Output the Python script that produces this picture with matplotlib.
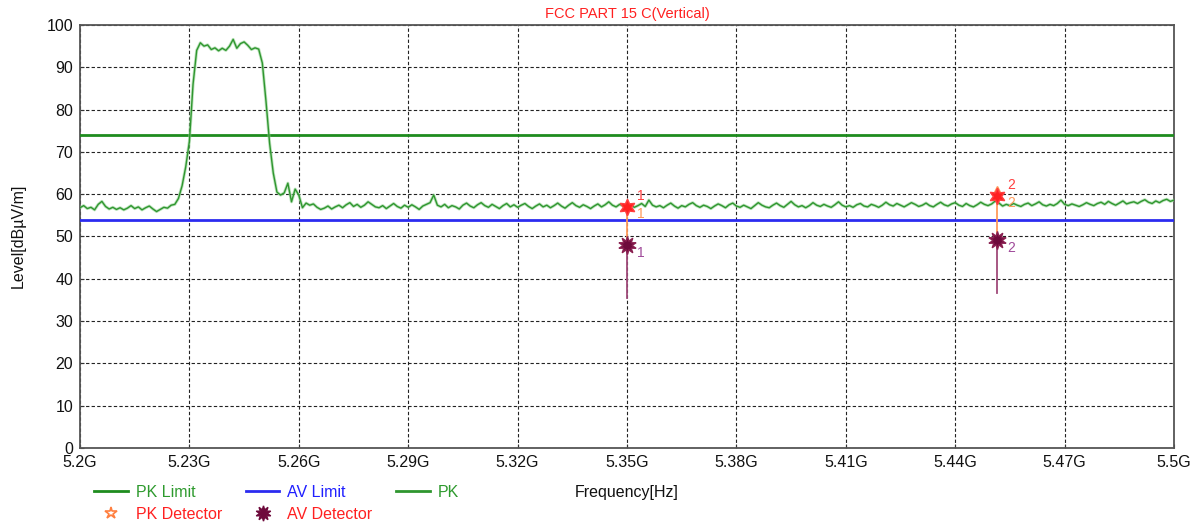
import numpy as np
import matplotlib
matplotlib.use("Agg")
import matplotlib.pyplot as plt
from matplotlib.lines import Line2D

plt.rcParams['font.family'] = ['Liberation Sans', 'DejaVu Sans']

# ---- data ----
title = "FCC PART 15 C(Vertical)"
f_start, f_stop = 5.2, 5.5          # GHz
pk_limit = 74.0
av_limit = 54.0
pk_trace = [
    56.8, 57.3, 56.6, 56.9, 56.3, 57.6, 58.3, 57.1, 56.5, 56.9,
    56.4, 56.8, 56.3, 56.7, 57.3, 56.6, 57.0, 56.3, 56.8, 57.2,
    56.5, 55.9, 56.4, 56.9, 56.7, 57.4, 57.6, 59.0, 62.0, 66.5,
    72.5, 86.0, 94.0, 95.8, 95.0, 95.3, 94.2, 94.6, 93.9, 94.5,
    94.0, 95.0, 96.6, 94.5, 95.6, 96.0, 95.2, 94.2, 94.6, 94.3,
    91.0, 82.0, 72.0, 65.0, 60.5, 59.8, 60.3, 62.6, 58.2, 61.2,
    59.8, 56.8, 57.9, 57.4, 57.7, 56.9, 56.4, 56.7, 57.2, 56.5,
    57.0, 57.4, 56.8, 57.5, 58.0, 57.1, 57.6, 56.9, 57.4, 58.2,
    57.6, 57.0, 56.8, 57.3, 56.6, 57.2, 57.8, 57.1, 56.7, 57.4,
    56.9, 57.5, 57.0, 56.4, 57.2, 57.6, 58.0, 59.8, 57.4, 57.0,
    57.6, 56.8, 57.3, 57.0, 56.5, 57.4, 57.9, 57.2, 56.8, 57.5,
    58.0, 57.3, 56.9, 57.6, 57.1, 56.6, 57.3, 57.8, 57.0, 57.5,
    56.9, 57.4, 57.8, 57.1, 56.6, 57.2, 57.7, 57.0, 57.4, 56.8,
    57.3, 57.9, 57.2, 56.7, 57.4, 58.0, 57.3, 56.9, 57.5, 57.1,
    56.6, 57.2, 57.7, 57.0, 57.5, 58.2, 57.4, 57.0, 57.6, 57.2,
    57.0, 57.5, 56.9, 57.3, 57.8, 57.1, 58.6, 57.4, 57.0, 57.3,
    56.8, 57.4, 57.9, 57.2, 56.7, 57.3, 57.0, 57.6, 58.0, 57.3,
    56.9, 57.4, 57.1, 56.6, 57.2, 57.7, 57.3, 56.8, 57.5, 57.9,
    57.2, 56.9, 57.4, 57.0, 56.6, 57.3, 58.0, 57.4, 57.0, 56.8,
    57.4, 57.9, 57.3, 56.9, 57.6, 58.3, 57.5, 57.0, 57.3, 56.8,
    57.3, 58.0, 57.4, 57.1, 57.6, 57.2, 56.9, 57.5, 58.2, 57.4,
    57.0, 57.3, 56.9, 57.5, 57.8, 57.2, 57.0, 57.6, 57.3, 56.9,
    57.4, 58.1, 57.5, 57.2, 57.8, 57.4, 57.0, 57.5, 58.0, 57.6,
    57.1, 57.4, 57.9, 57.3, 57.0, 57.6, 58.1, 57.5, 57.2, 57.7,
    58.0, 57.4, 57.1, 57.8, 57.3, 57.0, 57.5, 58.1, 57.6, 57.3,
    57.7, 58.4, 57.9, 57.2, 57.6, 57.3, 57.8, 57.4, 57.1, 57.6,
    57.9, 57.3, 57.7, 58.2, 57.5, 57.2, 57.6, 57.3, 57.8, 58.6,
    57.6, 57.3, 57.7, 57.4, 57.1, 57.5, 58.0, 57.6, 57.3, 57.8,
    58.1, 57.6, 58.3, 57.8, 57.4, 57.9, 58.4, 57.7, 58.0, 58.2,
    57.8, 58.3, 58.7, 58.1, 57.8, 58.4, 58.0, 58.5, 58.8, 58.3,
    58.6,
]
marker_ids = ["1", "2"]
marker_freq = [5.35, 5.4515]        # GHz
marker_pk = [57.0, 59.6]
marker_av = [48.1, 49.2]
marker_base = [35.4, 36.6]
x_ticks = [5.2, 5.23, 5.26, 5.29, 5.32, 5.35, 5.38, 5.41, 5.44, 5.47, 5.5]
x_tick_labels = ["5.2G", "5.23G", "5.26G", "5.29G", "5.32G", "5.35G",
                 "5.38G", "5.41G", "5.44G", "5.47G", "5.5G"]
y_ticks = list(range(0, 101, 10))

freq = np.linspace(f_start, f_stop, len(pk_trace))

# ---- figure ----
W, H = 1202, 524
fig = plt.figure(figsize=(W / 100, H / 100), dpi=100)
ax = fig.add_axes([80 / W, 1 - 448 / H, (1174 - 80) / W, (448 - 25) / H])

green_lim = '#1e8c1e'
blue_lim = '#2b2bf0'
trace_c = '#2f962f'
pk_c = '#ff2020'
av_c = '#6e0a3c'

ax.axhline(pk_limit, color=green_lim, lw=2.0, zorder=3)
ax.axhline(av_limit, color=blue_lim, lw=2.0, zorder=3)
ax.plot(freq, pk_trace, color='#8fd08f', lw=2.2, alpha=0.6, zorder=4)
ax.plot(freq, pk_trace, color=trace_c, lw=1.0, zorder=5)

for i in range(len(marker_ids)):
    fx = marker_freq[i]
    top = marker_pk[i] + (1.6 if i == 1 else 0.0)
    ax.plot([fx, fx], [marker_av[i], top], color='#ff9a5a', lw=1.3, zorder=6)
    ax.plot([fx, fx], [marker_base[i], marker_av[i]], color='#a04a7a', lw=1.3, zorder=6)
    if i == 1:
        ax.plot([fx], [top], marker='^', color='#ff9a5a', ms=4, zorder=6)
    ax.plot([fx], [marker_pk[i]], marker=(6, 1, 0), ms=12, color=pk_c,
            markeredgecolor='#ff4040', zorder=8)
    ax.plot([fx], [marker_av[i]], marker=(10, 1, 0), ms=13, color=av_c,
            markeredgecolor='#8a2050', zorder=8)
    ax.annotate(marker_ids[i], (fx, marker_pk[i]), xytext=(7, 8), textcoords='offset points',
                color='#ff4040', fontsize=10, ha='left', va='center', zorder=9)
    ax.annotate(marker_ids[i], (fx, marker_pk[i]), xytext=(7, -5), textcoords='offset points',
                color='#ff9a5a', fontsize=10, ha='left', va='center', zorder=9)
    ax.annotate(marker_ids[i], (fx, marker_av[i]), xytext=(7, -6), textcoords='offset points',
                color='#a04a9a', fontsize=10, ha='left', va='center', zorder=9)

ax.set_xlim(f_start, f_stop)
ax.set_ylim(0, 100)
ax.set_xticks(x_ticks)
ax.set_xticklabels(x_tick_labels)
ax.set_yticks(y_ticks)
ax.tick_params(axis='both', labelsize=11.5, length=3, direction='in', colors='#333333',
               labelcolor='#111111', pad=5)
ax.grid(True, color='#222222', linestyle=(0, (3, 2)), lw=0.8, zorder=1)
for sp in ax.spines.values():
    sp.set_color('#555555')
    sp.set_linewidth(1.3)

ax.set_title(title, color='#ff2020', fontsize=10.5, pad=5)
fig.text(18 / W, 1 - 236 / H, "Level[dBµV/m]", rotation=90, ha='center', va='center',
         fontsize=11.5, color='#111111')
fig.text(627 / W, 1 - 492 / H, "Frequency[Hz]", ha='center', va='center',
         fontsize=11.5, color='#111111')

handles = [
    Line2D([], [], color=green_lim, lw=2),
    Line2D([], [], color='none', marker='*', ms=9, markerfacecolor='none',
           markeredgecolor='#ff7f3f', markeredgewidth=1.2),
    Line2D([], [], color=blue_lim, lw=2),
    Line2D([], [], color='none', marker=(10, 1, 0), ms=11, markerfacecolor=av_c,
           markeredgecolor=av_c),
    Line2D([], [], color=trace_c, lw=2),
]
labels = ["PK Limit", "PK Detector", "AV Limit", "AV Detector", "PK"]
leg = fig.legend(handles, labels, ncol=3, loc='upper left',
                 bbox_to_anchor=(94 / W, 1 - 485 / H), frameon=False,
                 fontsize=11.5, handlelength=2.1, handletextpad=0.5,
                 columnspacing=1.5, labelspacing=0.42, borderaxespad=0, borderpad=0)
for t, c in zip(leg.get_texts(), ['#2e9a2e', '#ff2020', '#2020ff', '#ff2020', '#2e9a2e']):
    t.set_color(c)

fig.savefig("out.png", dpi=100)
